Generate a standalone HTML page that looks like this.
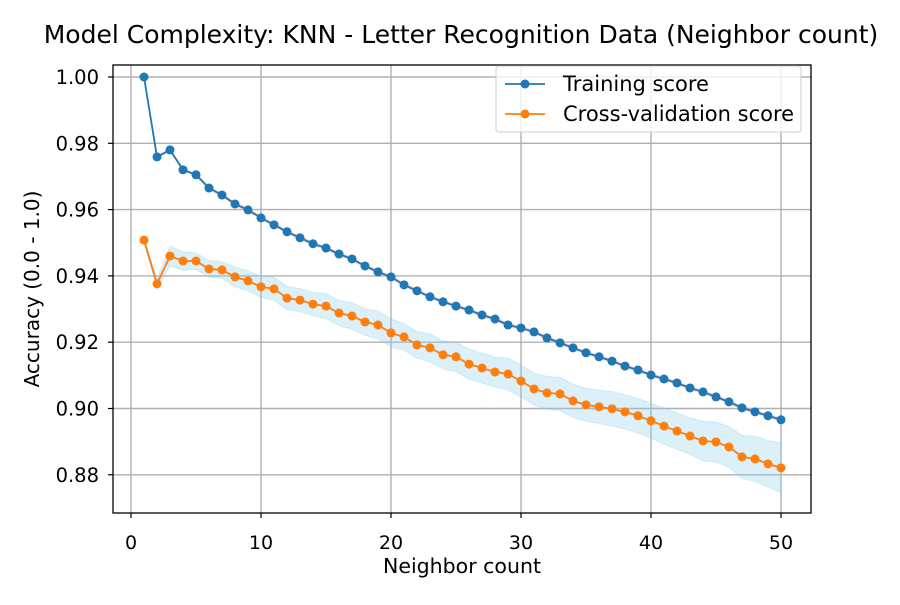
<!DOCTYPE html>
<html><head><meta charset="utf-8"><style>
body{margin:0;background:#fff}
svg text{font-family:"DejaVu Sans","Liberation Sans",sans-serif;fill:#000}
</style></head><body>
<svg id="c" width="900" height="600"></svg>
<script>
const ks=[];for(let i=1;i<=50;i++)ks.push(i);
const trainScore=[1.000,0.9759,0.9780,0.9720,0.9705,0.9665,0.9644,0.9617,0.9599,0.9575,0.9554,0.9533,0.9515,0.9497,0.9484,0.9466,0.9451,0.9430,0.9412,0.9397,0.9373,0.9355,0.9337,0.9322,0.9309,0.9297,0.9282,0.9270,0.9252,0.9243,0.9231,0.9213,0.9198,0.9183,0.9168,0.9156,0.9143,0.9128,0.9116,0.9101,0.9089,0.9077,0.9062,0.9050,0.9035,0.9020,0.9002,0.8990,0.8978,0.8966];
const cvScore=[0.9508,0.9376,0.9460,0.9445,0.9445,0.9421,0.9418,0.9397,0.9385,0.9367,0.9361,0.9333,0.9327,0.9315,0.9309,0.9288,0.9279,0.9261,0.9252,0.9228,0.9216,0.9192,0.9183,0.9162,0.9156,0.9134,0.9122,0.9110,0.9104,0.9083,0.9059,0.9047,0.9044,0.9023,0.9011,0.9005,0.8999,0.8990,0.8978,0.8963,0.8947,0.8932,0.8917,0.8902,0.8899,0.8884,0.8854,0.8848,0.8833,0.8821];
const trainStd=[0,0.0004,0.0004,0.0004,0.0004,0.0005,0.0005,0.0005,0.0005,0.0005,0.0005,0.0005,0.0005,0.0005,0.0005,0.0005,0.0005,0.0005,0.0005,0.0005,0.0005,0.0005,0.0005,0.0005,0.0005,0.0005,0.0005,0.0005,0.0005,0.0005,0.0005,0.0005,0.0005,0.0005,0.0005,0.0005,0.0005,0.0005,0.0005,0.0005,0.0005,0.0005,0.0005,0.0005,0.0005,0.0005,0.0005,0.0005,0.0005,0.0005];
const cvStd=[0.0008,0.0015,0.003,0.0028,0.0025,0.0025,0.0025,0.003,0.003,0.0032,0.0035,0.0035,0.0035,0.0035,0.0038,0.0038,0.004,0.004,0.0042,0.0042,0.004,0.004,0.0042,0.0042,0.0045,0.0045,0.0045,0.0045,0.0048,0.0048,0.0048,0.005,0.005,0.005,0.005,0.005,0.0052,0.0052,0.0052,0.0052,0.0055,0.0055,0.0055,0.006,0.006,0.0062,0.0065,0.0068,0.007,0.0075];
const xTicks=[0,10,20,30,40,50];
const yTicks=[0.88,0.90,0.92,0.94,0.96,0.98,1.00];
const L=113,R=811,T=65,B=513;
const X=v=>131+v*13;
const Y=v=>77+(1.0-v)*3315;
const s=document.getElementById('c');const NS='http://www.w3.org/2000/svg';
function el(t,a,txt){const e=document.createElementNS(NS,t);for(const k in a)e.setAttribute(k,a[k]);if(txt!==undefined)e.textContent=txt;s.appendChild(e);return e;}
let e;
e=el('text',{x:461,y:43,'font-size':25,'text-anchor':'middle'},'Model Complexity: KNN - Letter Recognition Data (Neighbor count)');


xTicks.forEach(t=>{
 e=el('line',{x1:X(t),x2:X(t),y1:T,y2:B,stroke:'#b0b0b0','stroke-width':1.4});
 
 
 el('line',{x1:X(t),x2:X(t),y1:B,y2:B+5,stroke:'#000','stroke-width':1.2});
 e=el('text',{x:X(t),y:B+36,'font-size':19,'text-anchor':'middle'},String(t));
 
 
});
yTicks.forEach(t=>{
 e=el('line',{x1:L,x2:R,y1:Y(t),y2:Y(t),stroke:'#b0b0b0','stroke-width':1.4});
 
 
 el('line',{x1:L-5,x2:L,y1:Y(t),y2:Y(t),stroke:'#000','stroke-width':1.2});
 e=el('text',{x:L-14,y:Y(t)+7,'font-size':19.5,'text-anchor':'end'},t.toFixed(2));
 
 
});
function band(m,sd,fill,name){
 let p=ks.map((k,i)=>X(k)+','+Y(m[i]+sd[i]));
 p=p.concat(ks.slice().reverse().map((k,j)=>{const i=ks.length-1-j;return X(k)+','+Y(m[i]-sd[i]);}));
 const e=el('polygon',{points:p.join(' '),fill:fill,'fill-opacity':0.3,stroke:fill,'stroke-opacity':0.3});
 
 
}
band(trainScore,trainStd,'#f4a3a3','train-std-band');
band(cvScore,cvStd,'#87ceeb','cv-std-band');
function series(m,c,name){
 const e=el('polyline',{points:ks.map((k,i)=>X(k)+','+Y(m[i])).join(' '),fill:'none',stroke:c,'stroke-width':1.8});
 
 
 ks.forEach((k,i)=>{
  const d=el('circle',{cx:X(k),cy:Y(m[i]),r:4.5,fill:c});
  
  
 });
}
series(trainScore,'#1f77b4','training-score');
series(cvScore,'#ff7f0e','cv-score');
e=el('rect',{x:L,y:T,width:R-L,height:B-T,fill:'none',stroke:'#000','stroke-width':1.3});


e=el('text',{x:462,y:573,'font-size':20.5,'text-anchor':'middle'},'Neighbor count');


e=el('text',{x:39,y:289,'font-size':20,'text-anchor':'middle',transform:'rotate(-90 39 289)'},'Accuracy (0.0 - 1.0)');


e=el('rect',{x:496,y:66,width:305,height:66,rx:3,fill:'#fff','fill-opacity':0.8,stroke:'#ccc'});


[['Training score','#1f77b4',84],['Cross-validation score','#ff7f0e',114]].forEach(([t,c,y])=>{
 el('line',{x1:505,x2:545,y1:y,y2:y,stroke:c,'stroke-width':1.8});
 el('circle',{cx:525,cy:y,r:4.5,fill:c});
 const e=el('text',{x:563,y:y+7,'font-size':21},t);
 
 
});
</script>
</body></html>
